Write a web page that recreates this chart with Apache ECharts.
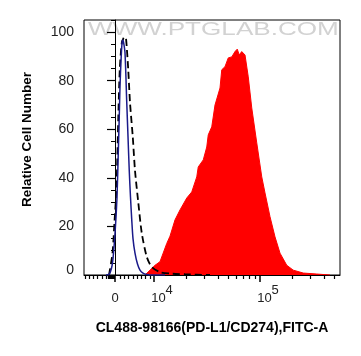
<!DOCTYPE html>
<html>
<head>
<meta charset="utf-8">
<script src="https://cdn.jsdelivr.net/npm/echarts@6/dist/echarts.min.js"></script>
<style>html,body{margin:0;padding:0;background:#fff}#c{width:361px;height:356px}</style>
</head>
<body>
<div id="c"></div>
<script>
// x values are display channels of a biexponential axis (0 -> "0", 156 -> 10^4, 580 -> 10^5)
var xMin = -124, xMax = 900;
var xMajorTicks = [0, 156, 580];
var xMajorLabels = ['0', '10|4', '10|5'];
var xMinorTicksLow = [-120, -103, -87, -71, -53, -36, -28, -25, -22, -19, -16, -13, -10, -7, -4, 20, 36, 52, 72, 88, 104, 120, 140];
var decadeChannels = 424;
var yMajorTicks = [0, 20, 40, 60, 80, 100];
var yMinorStep = 5;

// Blue (solid) histogram
var blueX = [-36, -22, -10, 0, 8, 13, 17, 20, 24, 28, 31, 34, 40, 47, 52, 57, 62, 67, 72, 80, 90, 100, 112, 127, 140, 200];
var blueY = [0, 0.5, 5, 17, 32, 50, 65, 77.6, 88, 95.5, 96.8, 96, 91.5, 71, 57, 43, 32, 22.7, 15, 9, 4.5, 2, 0.8, 0.2, 0, 0];

// Black dashed histogram
var dashX = [-24, -10, -2, 6, 13, 19, 27, 34, 40, 44, 53, 60, 71, 80, 93, 107, 127, 147, 180, 220, 280, 380];
var dashY = [0, 9, 22, 36, 64, 84.5, 95.5, 97.5, 98, 97.5, 84.5, 71, 57, 43, 30, 17.3, 7.5, 3.3, 1.2, 0.6, 0.3, 0];

// Red filled histogram
var redX = [120, 140, 160, 180, 207, 220, 240, 260, 287, 307, 327, 333, 353, 367, 373, 387, 400, 420, 427, 440, 453, 467, 480, 489, 497, 507, 520, 533, 547, 567, 587, 600, 620, 640, 660, 687, 713, 753, 807, 860];
var redY = [0, 2, 4, 5.5, 13, 16, 22.7, 26.8, 31.7, 34.2, 40.4, 44.5, 47.4, 52.7, 57.7, 61, 70, 77, 84.5, 85.8, 89.4, 89.8, 92, 93, 90.6, 92, 90.6, 81.6, 68.8, 54.4, 40.4, 33.8, 24, 15.7, 9, 4, 2, 0.8, 0.4, 0];

function pairs(xs, ys) { return xs.map(function (x, i) { return [x, ys[i]]; }); }

var xMinorTicks = xMinorTicksLow.slice();
[156, 580].forEach(function (base) {
  for (var k = 2; k <= 9; k++) {
    var v = base + decadeChannels * Math.log10(k);
    if (v < xMax) xMinorTicks.push(v);
  }
});
var yMinorTicks = [];
for (var v = 0; v <= 105; v += yMinorStep) yMinorTicks.push(v);

var chart = echarts.init(document.getElementById('c'), null, { renderer: 'canvas' });
var font = 'Liberation Sans, Arial, sans-serif';
chart.setOption({
  animation: false,
  backgroundColor: '#fff',
  grid: { left: 84, right: 21, top: 20, bottom: 81, show: true, borderColor: '#000', borderWidth: 1, backgroundColor: 'transparent' },
  graphic: [{
    type: 'text', x: 88, y: 21, scaleX: 1.45, z: 0, silent: true,
    style: { text: 'WWW.PTGLAB.COM', fill: '#d2d2d2', font: '18px ' + font, x: 0, y: 0, verticalAlign: 'top' }
  }],
  xAxis: [{
    type: 'value', min: xMin, max: xMax, gridIndex: 0,
    splitLine: { show: false },
    axisLine: { show: true, lineStyle: { color: '#000', width: 1 } },
    axisTick: { show: true, length: 7, customValues: xMajorTicks, lineStyle: { color: '#000', width: 1.5 } },
    axisLabel: {
      show: true, margin: 9, color: '#222', fontFamily: font, fontSize: 13,
      customValues: xMajorTicks,
      formatter: function (val) {
        var i = xMajorTicks.indexOf(val);
        var t = xMajorLabels[i] || '';
        if (t === '0') return '{z|0}';
        var p = t.split('|');
        return '{g| }{n|' + p[0] + '}{s|' + p[1] + '}';
      },
      rich: {
        z: { fontSize: 13, fontFamily: font, color: '#222', verticalAlign: 'bottom', lineHeight: 21 },
        g: { width: 16, fontSize: 13, lineHeight: 21 },
        n: { fontSize: 13, fontFamily: font, color: '#222', verticalAlign: 'bottom', lineHeight: 21 },
        s: { fontSize: 13, fontFamily: font, color: '#222', verticalAlign: 'top', lineHeight: 21 }
      }
    },
    name: 'CL488-98166(PD-L1/CD274),FITC-A',
    nameLocation: 'middle', nameGap: 46,
    nameTextStyle: { fontFamily: font, fontWeight: 'bold', fontSize: 14, color: '#000' }
  }, {
    type: 'value', min: xMin, max: xMax, gridIndex: 0, position: 'bottom',
    splitLine: { show: false },
    axisLine: { show: false },
    axisTick: { show: true, length: 4, customValues: xMinorTicks, lineStyle: { color: '#000', width: 1.2 } },
    axisLabel: { show: false }
  }],
  yAxis: [{
    type: 'value', min: 0, max: 105,
    splitLine: { show: false },
    axisLine: { show: true, lineStyle: { color: '#000', width: 1 } },
    axisTick: { show: true, length: 8, customValues: yMajorTicks, lineStyle: { color: '#000', width: 1.2 } },
    axisLabel: {
      show: true, margin: 10, color: '#222', fontFamily: font, fontSize: 14, customValues: yMajorTicks,
      formatter: function (val) { return val === 0 ? '{b|0}' : String(val); },
      rich: { b: { fontSize: 14, fontFamily: font, color: '#222', lineHeight: 23, verticalAlign: 'top' } }
    },
    name: 'Relative Cell Number',
    nameLocation: 'middle', nameGap: 50, nameRotate: 90,
    nameTextStyle: { fontFamily: font, fontWeight: 'bold', fontSize: 13.5, color: '#000', padding: [0, 0, 0, 16] }
  }, {
    type: 'value', min: 0, max: 105, position: 'left',
    splitLine: { show: false },
    axisLine: { show: false },
    axisTick: { show: true, length: 4, customValues: yMinorTicks, lineStyle: { color: '#000', width: 1 } },
    axisLabel: { show: false }
  }],
  series: [{
    type: 'line', name: 'PD-L1', data: pairs(redX, redY), xAxisIndex: 0, yAxisIndex: 0,
    symbol: 'none', smooth: false,
    lineStyle: { color: '#ff0000', width: 1 },
    areaStyle: { color: '#ff0000', opacity: 1 },
    z: 2
  }, {
    type: 'line', name: 'dashed', data: pairs(dashX, dashY), xAxisIndex: 0, yAxisIndex: 0,
    symbol: 'none', smooth: 0.25,
    lineStyle: { color: '#000', width: 1.8, type: [7, 4] },
    z: 3
  }, {
    type: 'line', name: 'control', data: pairs(blueX, blueY), xAxisIndex: 0, yAxisIndex: 0,
    symbol: 'none', smooth: 0.25,
    lineStyle: { color: '#1a1a8a', width: 1.5 },
    z: 4
  }]
});
</script>
</body>
</html>
